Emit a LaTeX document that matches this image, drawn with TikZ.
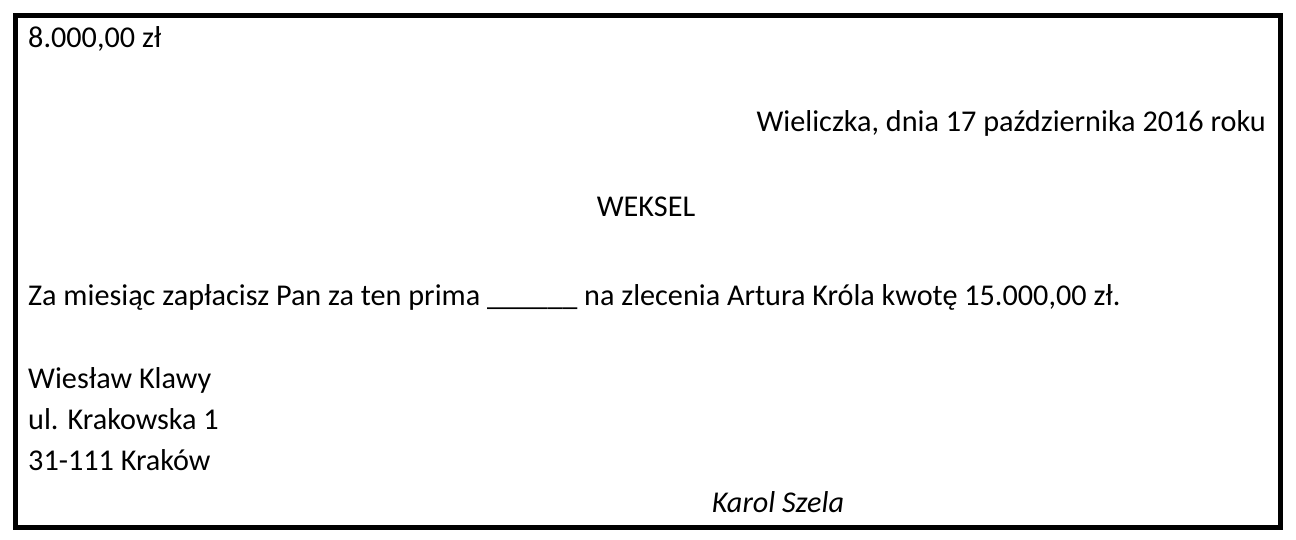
\documentclass[tikz,border=0pt]{standalone}
\usepackage{fontspec}
\setmainfont{Carlito}
\begin{document}
\begin{tikzpicture}[x=1pt,y=-1pt,
  txt/.style={inner sep=0pt,font=\fontsize{30.2}{36}\selectfont}]
\useasboundingbox (0,0) rectangle (1296,540);
\fill[white] (0,0) rectangle (1296,540);
\draw[line width=5pt] (15,16) rectangle (1280,527);
\node[txt,anchor=base west] (amt) at (28,48) {8.000,00 zł};
\node[txt,anchor=base east] (place) at (1266,132) {Wieliczka, dnia 17 października 2016 roku};
\node[txt,anchor=base] (title) at (646,217) {WEKSEL};
\node[txt,anchor=base west] (body) at (28,305) {Za miesiąc zapłacisz Pan za ten prima \_\_\_\_\_\_ na zlecenia Artura Króla kwotę 15.000,00 zł.};
\node[txt,anchor=base west] (n1) at (28,388) {Wiesław Klawy};
\node[txt,anchor=base west] (n2) at (28,429) {ul. Krakowska 1};
\node[txt,anchor=base west] (n3) at (28,470) {31-111 Kraków};
\node[txt,anchor=base,font=\fontsize{30.2}{36}\selectfont\itshape] (sig) at (778,512) {Karol Szela};
\end{tikzpicture}
\end{document}
